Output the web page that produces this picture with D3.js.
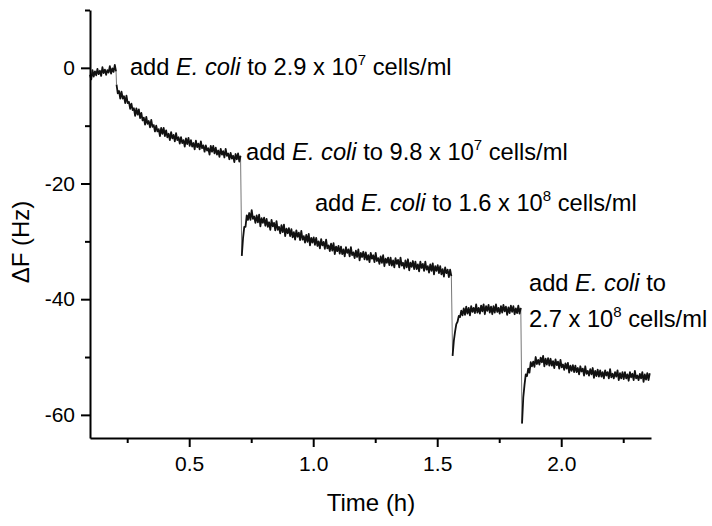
<!DOCTYPE html>
<html><head><meta charset="utf-8">
<script src="https://cdn.jsdelivr.net/npm/d3@7"></script>
<style>
body{margin:0;background:#fff}
svg{display:block}
text{font-family:"Liberation Sans",Arial,Helvetica,sans-serif;fill:#000}
</style>
</head><body><svg id="c" width="712" height="526"></svg>
<script>
// ---- data (time in h, ΔF in Hz), sampled every 0.005 h per segment ----
const segStart = [0.100, 0.207, 0.712, 1.562, 1.842];
const segStep = 0.005;
const seg0 = [-1.2,-2.0,-0.4,-1.5,-0.6,-1.3,-0.2,-1.1,-0.5,-1.4,0.1,-0.9,-0.3,-1.2,-0.4,-0.8,0.3,-1.0,-0.1,-0.7,0.5,-0.6];
const seg1 = [-2.9,-4.4,-4.0,-5.3,-4.1,-5.3,-4.9,-6.1,-4.8,-6.1,-5.9,-7.1,-6.2,-7.3,-7.0,-8.3,-7.0,-8.1,-7.2,-8.7,
  -7.8,-9.1,-8.6,-9.8,-8.5,-9.7,-9.2,-10.3,-9.0,-10.2,-9.9,-11.0,-10.0,-11.0,-10.6,-11.8,-10.4,-11.4,-10.4,-11.8,
  -10.8,-12.0,-11.4,-12.5,-11.1,-12.2,-11.6,-12.7,-11.3,-12.5,-12.0,-13.1,-12.0,-13.0,-12.5,-13.6,-12.2,-13.2,-12.1,-13.5,
  -12.5,-13.6,-13.0,-14.1,-12.6,-13.7,-13.1,-14.1,-12.7,-13.9,-13.4,-14.5,-13.4,-14.3,-13.9,-15.0,-13.5,-14.5,-13.5,-14.8,
  -13.8,-15.0,-14.3,-15.4,-14.0,-15.0,-14.4,-15.5,-14.0,-15.2,-14.8,-15.8,-14.7,-15.7,-15.2,-16.3,-14.9,-15.8,-14.8,-16.2,-15.2];
const seg2 = [-32.5,-29.5,-27.5,-27.5,-25.5,-26.3,-25.1,-26.3,-24.6,-26.1,-25.7,
  -26.8,-25.5,-26.7,-25.4,-27.4,-26.0,-26.8,-25.9,-27.3,-26.1,-27.5,-26.7,-28.0,-26.3,-27.4,-26.8,-28.1,-26.5,-28.0,
  -27.5,-28.6,-27.2,-28.4,-27.1,-29.1,-27.8,-28.6,-27.7,-29.1,
  -27.9,-29.3,-28.4,-29.7,-28.1,-29.2,-28.5,-29.8,-28.2,-29.7,-29.1,-30.2,-28.9,-30.1,-28.7,-30.7,-29.4,-30.2,-29.3,-30.6,
  -29.4,-30.8,-30.0,-31.2,-29.6,-30.7,-30.1,-31.3,-29.7,-31.2,-30.7,-31.7,-30.4,-31.6,-30.3,-32.2,-30.9,-31.7,-30.8,-32.1,
  -30.9,-32.2,-31.4,-32.6,-31.0,-32.0,-31.4,-32.6,-31.0,-32.4,-31.9,-32.9,-31.6,-32.7,-31.4,-33.3,-32.0,-32.7,-31.8,-33.1,
  -31.9,-33.2,-32.4,-33.6,-32.0,-33.0,-32.4,-33.6,-32.0,-33.4,-32.9,-33.9,-32.6,-33.7,-32.4,-34.3,-33.0,-33.7,-32.8,-34.1,
  -32.8,-34.2,-33.3,-34.5,-32.9,-33.9,-33.2,-34.5,-32.8,-34.2,-33.7,-34.7,-33.3,-34.5,-33.1,-35.0,-33.7,-34.4,-33.4,-34.8,
  -33.5,-34.8,-34.0,-35.2,-33.5,-34.6,-33.9,-35.1,-33.5,-34.9,-34.3,-35.4,-34.0,-35.1,-33.8,-35.7,-34.3,-35.1,-34.1,-35.5,
  -34.3,-35.7,-34.8,-36.1,-34.5,-35.5,-34.9,-36.2,-34.9,-36.0];
const seg3 = [-49.8,-47.2,-45.6,-44.3,-43.9,-42.9,-43.1,-42.0,-42.8,
  -41.6,-42.7,-41.3,-42.5,-41.5,-42.8,-41.2,-42.2,-41.5,-42.4,-40.9,-42.3,-41.5,-42.5,-41.1,-42.1,-40.9,-42.6,-41.2,-42.0,-41.0,
  -42.3,-41.3,-42.6,-41.2,-42.3,-40.9,-42.2,-41.5,-42.5,-41.2,-42.3,-41.0,-42.1,-41.3,-42.7,-41.4,-42.4,-41.1,-42.2,-41.2,
  -42.6,-41.6,-42.4,-41.1,-42.5,-41.5];
const seg4 = [-61.5,-57.0,-54.8,-53.0,-53.3,-52.0,-52.7,-50.9,-51.6,-50.8,-51.7,-50.0,-51.2,-50.5,-51.3,-50.1,-50.9,-49.8,-51.6,-50.3,
  -51.3,-50.2,-51.5,-50.3,-51.5,-50.7,-51.9,-50.4,-51.4,-50.8,-52.0,-50.5,-51.8,-51.3,-52.2,-51.1,-52.0,-51.0,-52.7,-51.5,
  -52.4,-51.4,-52.6,-51.5,-52.6,-51.9,-53.0,-51.6,-52.5,-52.0,-53.2,-51.6,-52.9,-52.4,-53.2,-52.1,-53.0,-51.9,-53.6,-52.4,
  -53.3,-52.2,-53.4,-52.3,-53.4,-52.6,-53.7,-52.3,-53.2,-52.6,-53.7,-52.1,-53.5,-52.9,-53.7,-52.6,-53.4,-52.3,-54.0,-52.8,
  -53.7,-52.6,-53.8,-52.6,-53.7,-53.0,-54.1,-52.6,-53.5,-52.9,-54.0,-52.4,-53.7,-53.2,-54.0,-52.9,-53.7,-52.6,-54.3,-53.0,
  -53.9,-52.8,-54.0,-52.8];
const segments = [seg0, seg1, seg2, seg3, seg4];

// ---- ticks ----
const xMajor = [0.5, 1.0, 1.5, 2.0];
const xMinor = [0.25, 0.75, 1.25, 1.75, 2.25];
const yMajor = [0, -20, -40, -60];
const yMinor = [10, -10, -30, -50];

// ---- annotations ----
const noteT = [0.261, 0.729, 1.007, 1.870];
const noteV = [-1.26, -15.95, -24.77, -38.6];
const noteConc = ["2.9", "9.8", "1.6", "2.7"];
const noteExp = ["7", "7", "8", "8"];
const noteSplit = [false, false, false, true];

const xLabel = "Time (h)";
const yLabel = "\u0394F (Hz)";

// ---- chart ----
const svg = d3.select("#c");
const x = d3.scaleLinear().domain([0.1, 2.362]).range([90, 651]);
const y = d3.scaleLinear().domain([-64, 10]).range([438, 10]);

const segPts = segments.map((s, k) => s.map((v, i) => ({t: segStart[k] + i * segStep, v})));
const line = d3.line().x(d => x(d.t)).y(d => y(d.v));

// thin grey connectors at each addition step
const joins = segPts.slice(1).map((p, k) => [segPts[k][segPts[k].length - 1], p[0]]);
svg.append("g").selectAll("path").data(joins).join("path")
  .attr("fill", "none").attr("stroke", "#777").attr("stroke-width", 1)
  .attr("d", line);

svg.append("g").selectAll("path").data(segPts).join("path")
  .attr("fill", "none")
  .attr("stroke", "#111")
  .attr("stroke-width", 1.8)
  .attr("stroke-linejoin", "round")
  .attr("d", line);

function styleAxis(g) {
  g.selectAll(".domain").attr("stroke", "#000").attr("stroke-width", 2);
  g.selectAll(".tick line").attr("stroke", "#000").attr("stroke-width", 2);
  g.selectAll(".tick text").attr("font-size", 21).attr("font-family", "Liberation Sans, Arial, sans-serif").attr("fill", "#000");
}

const gyMinor = svg.append("g").attr("transform", "translate(90,0)")
  .call(d3.axisLeft(y).tickValues(yMinor).tickSize(5).tickFormat(""));
gyMinor.select(".domain").remove();
styleAxis(gyMinor);
const gy = svg.append("g").attr("transform", "translate(90,0)")
  .call(d3.axisLeft(y).tickValues(yMajor).tickSize(9).tickSizeOuter(0).tickPadding(6).tickFormat(d => String(d)));
styleAxis(gy);

const gxMinor = svg.append("g").attr("transform", "translate(0,438)")
  .call(d3.axisBottom(x).tickValues(xMinor).tickSize(5).tickFormat(""));
gxMinor.select(".domain").remove();
styleAxis(gxMinor);
const gx = svg.append("g").attr("transform", "translate(0,438)")
  .call(d3.axisBottom(x).tickValues(xMajor).tickSize(9).tickSizeOuter(0).tickPadding(9).tickFormat(d3.format(".1f")));
styleAxis(gx);

svg.append("text").attr("x", 371).attr("y", 511).attr("text-anchor", "middle")
  .attr("font-size", 24).text(xLabel);
svg.append("text").attr("transform", "translate(29,242) rotate(-90)").attr("text-anchor", "middle")
  .attr("font-size", 24).text(yLabel);

noteT.forEach((t, k) => {
  const x0 = x(t), y0 = y(noteV[k]);
  const tx = svg.append("text").attr("x", x0).attr("y", y0).attr("font-size", 23.7);
  tx.append("tspan").text("add ");
  tx.append("tspan").attr("font-style", "italic").text("E. coli");
  if (noteSplit[k]) {
    tx.append("tspan").text(" to");
    const t2 = svg.append("text").attr("x", x0).attr("y", y0 + 36).attr("font-size", 23.7);
    t2.append("tspan").text(noteConc[k] + " x 10");
    t2.append("tspan").attr("font-size", 15).attr("dy", -10).text(noteExp[k]);
    t2.append("tspan").attr("dy", 10).text(" cells/ml");
  } else {
    tx.append("tspan").text(" to " + noteConc[k] + " x 10");
    tx.append("tspan").attr("font-size", 15).attr("dy", -10).text(noteExp[k]);
    tx.append("tspan").attr("dy", 10).text(" cells/ml");
  }
});
</script></body></html>
